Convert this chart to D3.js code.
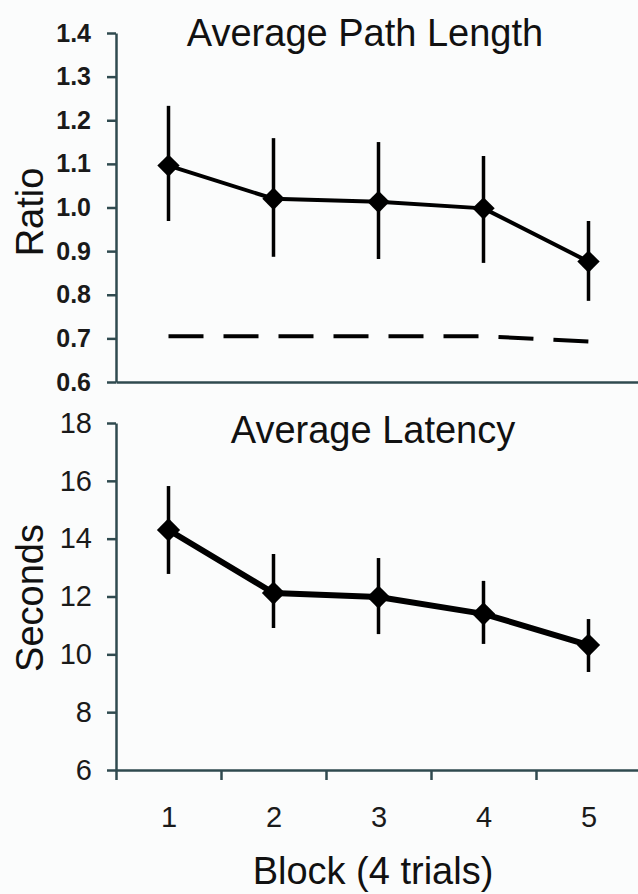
<!DOCTYPE html>
<html>
<head>
<meta charset="utf-8">
<script src="https://cdn.jsdelivr.net/npm/d3@7"></script>
<style>
    html, body { margin: 0; padding: 0; background: #fbfcfc; }
    svg { display: block; font-family: "Liberation Sans", Arial, sans-serif; }
    .axis path, .axis line { stroke: #2f4a4f; stroke-width: 2.5; }
    .axis text { fill: #1a1a1a; }
    .top.y.axis text { font-size: 25px; font-weight: bold; }
    .bottom.y.axis text, .x.labels text { font-size: 29px; }
    .title, .label { font-size: 38px; fill: #111; }
</style>
</head>
<body>
<div id="graph"></div>
<script>
// blocks of 4 trials
var blocks = [1, 2, 3, 4, 5];

// average path length (ratio)
var pathMean = [1.096, 1.020, 1.013, 0.998, 0.876];
var pathUpper = [1.233, 1.159, 1.150, 1.118, 0.969];
var pathLower = [0.969, 0.887, 0.882, 0.873, 0.786];
var pathRef = [0.705, 0.705, 0.705, 0.705, 0.693];

// average latency (seconds)
var latMean = [14.30, 12.12, 11.98, 11.40, 10.32];
var latUpper = [15.82, 13.47, 13.33, 12.54, 11.22];
var latLower = [12.78, 10.91, 10.70, 10.36, 9.39];

var ratioTicks = [0.6, 0.7, 0.8, 0.9, 1.0, 1.1, 1.2, 1.3, 1.4];
var secondTicks = [6, 8, 10, 12, 14, 16, 18];

var graph = (function () {
    var width = 638, height = 894,
        left = 116, right = 641;

    var svg = d3.select("#graph").append("svg")
        .attr("width", width)
        .attr("height", height);

    // block 1 is centred in the first of five equal bins
    var x = d3.scaleLinear().domain([0.5, 5.5]).range([left, right]);
    var yRatio = d3.scaleLinear().domain([0.6, 1.4]).range([382, 33]);
    var ySec = d3.scaleLinear().domain([6, 18]).range([770, 423]);

    function rows(mean, upper, lower) {
        return blocks.map(function (b, i) {
            return {x: b, y: mean[i], hi: upper[i], lo: lower[i]};
        });
    }

    function drawSeries(g, data, y, lineWidth, dotSize) {
        var line = d3.line()
            .x(function (d) { return x(d.x); })
            .y(function (d) { return y(d.y); });

        g.selectAll("line.err")
            .data(data)
            .enter().append("line")
            .attr("class", "err")
            .attr("x1", function (d) { return x(d.x); })
            .attr("x2", function (d) { return x(d.x); })
            .attr("y1", function (d) { return y(d.hi); })
            .attr("y2", function (d) { return y(d.lo); })
            .attr("stroke", "#000")
            .attr("stroke-width", 3.5);

        g.append("path")
            .attr("d", line(data))
            .attr("fill", "none")
            .attr("stroke", "#000")
            .attr("stroke-width", lineWidth)
            .attr("stroke-linejoin", "round");

        var diamond = d3.symbol().type(d3.symbolSquare).size(dotSize);
        g.selectAll("path.dot")
            .data(data)
            .enter().append("path")
            .attr("class", "dot")
            .attr("d", diamond)
            .attr("transform", function (d) {
                return "translate(" + x(d.x) + "," + y(d.y) + ") rotate(45)";
            })
            .attr("fill", "#000");
    }

    // ---- top panel: path length
    var top = svg.append("g");

    top.append("g")
        .attr("class", "top y axis")
        .attr("transform", "translate(" + left + ",0)")
        .call(d3.axisLeft(yRatio).tickValues(ratioTicks)
            .tickFormat(d3.format(".1f")).tickSize(9).tickSizeOuter(0).tickPadding(16));

    top.append("g")
        .attr("class", "x axis")
        .attr("transform", "translate(0," + yRatio(0.6) + ")")
        .call(d3.axisBottom(x).tickValues([]).tickSizeOuter(0));

    var refLine = d3.line()
        .x(function (d, i) { return x(blocks[i]); })
        .y(function (d) { return yRatio(d); });

    top.append("path")
        .attr("d", refLine(pathRef))
        .attr("fill", "none")
        .attr("stroke", "#000")
        .attr("stroke-width", 4)
        .attr("stroke-dasharray", "35,20");

    drawSeries(top, rows(pathMean, pathUpper, pathLower), yRatio, 4, 250);

    top.append("text")
        .attr("class", "title")
        .attr("x", 365)
        .attr("y", 46)
        .attr("text-anchor", "middle")
        .text("Average Path Length");

    top.append("text")
        .attr("class", "label")
        .attr("transform", "translate(43,212) rotate(-90)")
        .attr("text-anchor", "middle")
        .text("Ratio");

    // ---- bottom panel: latency
    var bottom = svg.append("g");

    bottom.append("g")
        .attr("class", "bottom y axis")
        .attr("transform", "translate(" + left + ",0)")
        .call(d3.axisLeft(ySec).tickValues(secondTicks)
            .tickSize(9).tickSizeOuter(0).tickPadding(15));

    bottom.append("g")
        .attr("class", "x axis")
        .attr("transform", "translate(0," + ySec(6) + ")")
        .call(d3.axisBottom(x).tickValues([0.5, 1.5, 2.5, 3.5, 4.5, 5.5])
            .tickFormat("").tickSize(10).tickSizeOuter(0));

    bottom.append("g")
        .attr("class", "x labels axis")
        .attr("transform", "translate(0," + ySec(6) + ")")
        .call(d3.axisBottom(x).tickValues(blocks).tickFormat(d3.format("d"))
            .tickSize(0).tickPadding(36))
        .select(".domain").remove();

    drawSeries(bottom, rows(latMean, latUpper, latLower), ySec, 6, 270);

    bottom.append("text")
        .attr("class", "title")
        .attr("x", 373)
        .attr("y", 443)
        .attr("text-anchor", "middle")
        .text("Average Latency");

    bottom.append("text")
        .attr("class", "label")
        .attr("transform", "translate(43,598) rotate(-90)")
        .attr("text-anchor", "middle")
        .text("Seconds");

    svg.append("text")
        .attr("class", "label")
        .attr("x", 373)
        .attr("y", 884)
        .attr("text-anchor", "middle")
        .text("Block (4 trials)");

    return svg;
})();
</script>
</body>
</html>
